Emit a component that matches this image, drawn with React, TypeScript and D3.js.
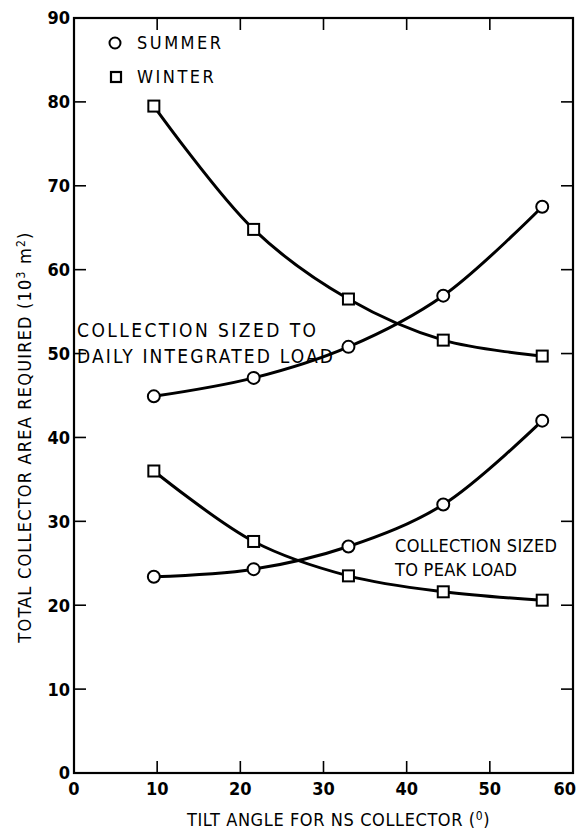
import React from "react";
import * as d3 from "d3";

const tiltAngles = [9.6, 21.6, 33, 44.4, 56.3];
const summerDaily = [44.9, 47.1, 50.8, 56.9, 67.5];
const winterDaily = [79.5, 64.8, 56.5, 51.6, 49.7];
const summerPeak = [23.4, 24.3, 27, 32, 42];
const winterPeak = [36, 27.6, 23.5, 21.6, 20.6];
const xTicks = [0, 10, 20, 30, 40, 50, 60];
const yTicks = [0, 10, 20, 30, 40, 50, 60, 70, 80, 90];

const W = 578;
const H = 830;
const FONT = "'Liberation Sans Narrow', 'DejaVu Sans Condensed', 'Liberation Sans', sans-serif";

export default function App() {
  const x = d3.scaleLinear().domain([0, 60]).range([74, 573]);
  const y = d3.scaleLinear().domain([0, 90]).range([773, 18]);
  const line = d3
    .line<[number, number]>()
    .x((d) => x(d[0]))
    .y((d) => y(d[1]))
    .curve(d3.curveCatmullRom.alpha(0.5));

  const series = [
    { vals: summerDaily, mark: "circle" },
    { vals: winterDaily, mark: "square" },
    { vals: summerPeak, mark: "circle" },
    { vals: winterPeak, mark: "square" },
  ];

  const [x0, x1] = x.range();
  const [y0, y1] = y.range();

  return (
    <svg
      width={W}
      height={H}
      style={{ position: "absolute", left: 0, top: 0, background: "#fff" }}
      fontFamily={FONT}
    >
      <rect x={0} y={0} width={W} height={H} fill="#fff" />
      {/* frame */}
      <rect x={x0} y={y1} width={x1 - x0} height={y0 - y1} fill="none" stroke="#000" strokeWidth={2.2} />
      {/* x ticks bottom and top */}
      {xTicks.map((t) => (
        <g key={"xt" + t}>
          {t > 0 && t < 60 && (
            <>
              <line x1={x(t)} x2={x(t)} y1={y0} y2={y0 - 12} stroke="#000" strokeWidth={1.6} />
              <line x1={x(t)} x2={x(t)} y1={y1} y2={y1 + 12} stroke="#000" strokeWidth={1.6} />
            </>
          )}
          <text
            x={t === 60 ? 576 : x(t)}
            y={795}
            textAnchor={t === 60 ? "end" : "middle"}
            fontSize={18}
            fontWeight={600}
            fill="#000"
          >
            {t}
          </text>
        </g>
      ))}
      {/* y ticks left and right */}
      {yTicks.map((t) => (
        <g key={"yt" + t}>
          {t > 0 && t < 90 && (
            <>
              <line x1={x0} x2={x0 + 12} y1={y(t)} y2={y(t)} stroke="#000" strokeWidth={1.6} />
              <line x1={x1} x2={x1 - 12} y1={y(t)} y2={y(t)} stroke="#000" strokeWidth={1.6} />
            </>
          )}
          <text x={70} y={y(t)} dy="0.36em" textAnchor="end" fontSize={18} fontWeight={600} fill="#000">
            {t}
          </text>
        </g>
      ))}
      {/* axis titles */}
      <text x={187} y={826} fontSize={18} letterSpacing={0.6} fill="#000">
        TILT ANGLE FOR NS COLLECTOR (<tspan dy={-6} fontSize={12}>0</tspan>
        <tspan dy={6}>)</tspan>
      </text>
      <text
        transform={`translate(31, 437) rotate(-90)`}
        textAnchor="middle"
        fontSize={18}
        letterSpacing={1.2}
        fill="#000"
      >
        TOTAL COLLECTOR AREA REQUIRED  (10<tspan dy={-6} fontSize={12}>3</tspan>
        <tspan dy={6}> m</tspan>
        <tspan dy={-6} fontSize={12}>2</tspan>
        <tspan dy={6}>)</tspan>
      </text>
      {/* curves */}
      {series.map((s, i) => {
        const pts = tiltAngles.map((a, j) => [a, s.vals[j]] as [number, number]);
        return (
          <g key={"s" + i}>
            <path d={line(pts) || ""} fill="none" stroke="#000" strokeWidth={3} />
            {pts.map((p, j) =>
              s.mark === "circle" ? (
                <circle key={j} cx={x(p[0])} cy={y(p[1])} r={6} fill="#fff" stroke="#000" strokeWidth={2} />
              ) : (
                <rect
                  key={j}
                  x={x(p[0]) - 5.5}
                  y={y(p[1]) - 5.5}
                  width={11}
                  height={11}
                  fill="#fff"
                  stroke="#000"
                  strokeWidth={2}
                />
              )
            )}
          </g>
        );
      })}
      {/* legend */}
      <circle cx={115} cy={43} r={5.5} fill="#fff" stroke="#000" strokeWidth={2} />
      <text x={137} y={43} dy="0.36em" fontSize={18} letterSpacing={2.5} fill="#000">SUMMER</text>
      <rect x={111} y={72} width={10} height={10} fill="#fff" stroke="#000" strokeWidth={2.2} />
      <text x={137} y={77} dy="0.36em" fontSize={18} letterSpacing={2.5} fill="#000">WINTER</text>
      {/* annotations */}
      <text x={77} y={337} fontSize={19} textLength={239} lengthAdjust="spacing" fill="#000">
        COLLECTION SIZED TO
      </text>
      <text x={77} y={363} fontSize={19} textLength={256} lengthAdjust="spacing" fill="#000">
        DAILY INTEGRATED LOAD
      </text>
      <text x={395} y={552} fontSize={18} textLength={162} lengthAdjust="spacing" fill="#000">
        COLLECTION SIZED
      </text>
      <text x={395} y={576} fontSize={18} textLength={122} lengthAdjust="spacing" fill="#000">
        TO PEAK LOAD
      </text>
    </svg>
  );
}
